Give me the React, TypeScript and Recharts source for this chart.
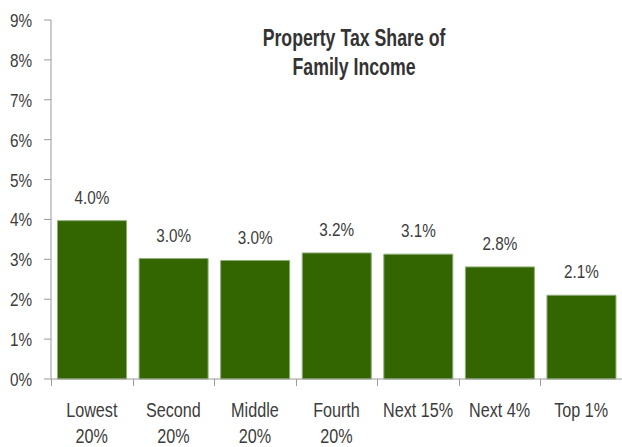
import React from "react";
import { BarChart, Bar, XAxis, YAxis, LabelList } from "recharts";

const groups = ["Lowest 20%", "Second 20%", "Middle 20%", "Fourth 20%", "Next 15%", "Next 4%", "Top 1%"];
const taxShare = [3.97, 3.02, 2.97, 3.16, 3.13, 2.81, 2.1];
const yTicks = [0, 1, 2, 3, 4, 5, 6, 7, 8, 9];

const data = groups.map((g, i) => ({ group: g, share: taxShare[i] }));

const CHART_W = 622;
const CHART_H = 447;
const Y_AXIS_W = 51;

// no condensed face installed, so squeeze Liberation Sans horizontally
const FONT = "'Liberation Sans', Arial, sans-serif";
const TEXT = "#3c3c3c";
const AXIS = "#9a9a9a";

// ticks sit on the band edges, like the spreadsheet original
function GroupTick(props: any) {
  const x = Number(props.x);
  const y = Number(props.y);
  const label: string = props.payload.value;
  const half = (CHART_W - Y_AXIS_W) / groups.length / 2;
  const edge = Math.round(x - half) + 0.5;
  const lines = label.endsWith(" 20%") ? [label.slice(0, -4), "20%"] : [label];
  return (
    <g>
      <path d={`M${edge},${Math.round(y)}V${Math.round(y) + 7}`} stroke={AXIS} strokeWidth={1} fill="none" />
      <text
        transform={`translate(${x},${y + 38}) scale(0.77,1)`}
        textAnchor="middle"
        fill={TEXT}
        fontSize={21}
        fontFamily={FONT}
      >
        {lines.map((l, i) => (
          <tspan key={i} x={0} dy={i === 0 ? 0 : 26}>
            {l}
          </tspan>
        ))}
      </text>
    </g>
  );
}

function PctTick(props: any) {
  const { x, y, payload } = props;
  return (
    <text
      transform={`translate(${x},${y + 7}) scale(0.85,1)`}
      textAnchor="end"
      fill={TEXT}
      fontSize={18}
      fontFamily={FONT}
    >
      {`${payload.value}%`}
    </text>
  );
}

function ValueLabel(props: any) {
  const { x, y, width, value } = props;
  return (
    <text
      transform={`translate(${x + width / 2},${y - 17}) scale(0.85,1)`}
      textAnchor="middle"
      fill={TEXT}
      fontSize={18}
      fontFamily={FONT}
    >
      {`${Number(value).toFixed(1)}%`}
    </text>
  );
}

export default function App() {
  return (
    <div style={{ position: "absolute", left: 0, top: 0, width: CHART_W, height: CHART_H, background: "#fff" }}>
      <BarChart
        width={CHART_W}
        height={CHART_H}
        data={data}
        margin={{ top: 20, right: 0, bottom: 0, left: 0 }}
        barCategoryGap="8%"
      >
        <XAxis
          dataKey="group"
          interval={0}
          height={68}
          stroke={AXIS}
          tickLine={false}
          tickSize={0}
          tickMargin={0}
          tick={<GroupTick />}
        />
        <YAxis
          domain={[0, 9]}
          ticks={yTicks}
          width={Y_AXIS_W}
          stroke={AXIS}
          tickSize={7}
          tickMargin={12}
          tick={<PctTick />}
        />
        <Bar dataKey="share" fill="#336600" stroke="#8fae78" strokeWidth={1} isAnimationActive={false}>
          <LabelList dataKey="share" content={<ValueLabel />} />
        </Bar>
      </BarChart>
      <div
        style={{
          position: "absolute",
          left: 204,
          top: 24,
          width: 300,
          textAlign: "center",
          fontFamily: FONT,
          fontWeight: "bold",
          fontSize: 23,
          lineHeight: "29px",
          color: "#333",
          transform: "scaleX(0.77)",
          transformOrigin: "center",
        }}
      >
        Property Tax Share of
        <br />
        Family Income
      </div>
    </div>
  );
}
